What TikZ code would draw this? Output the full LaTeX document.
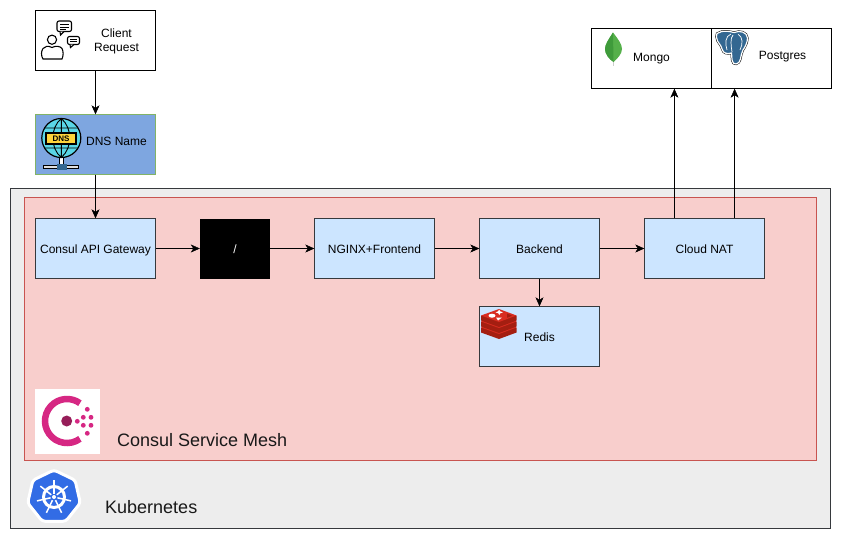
\documentclass[tikz,border=0pt]{standalone}
\usepackage{fontspec}
\setmainfont{Liberation Sans}
\usepackage{xcolor}
\usetikzlibrary{arrows.meta,calc}
\definecolor{meshred}{HTML}{F8CECC}
\definecolor{meshline}{HTML}{C85450}
\definecolor{svcblue}{HTML}{CCE5FF}
\definecolor{darkline}{HTML}{36393D}
\definecolor{dnsblue}{HTML}{7EA6E0}
\definecolor{dnsline}{HTML}{82B366}
\definecolor{globecyan}{HTML}{5AD6E6}
\definecolor{dnsyellow}{HTML}{FFD43B}
\definecolor{k8sblue}{HTML}{326CE5}
\definecolor{consulpink}{HTML}{D62783}
\definecolor{consuldark}{HTML}{961D59}
\definecolor{pgblue}{HTML}{336791}
\definecolor{redisred}{HTML}{D82C20}
\definecolor{redisdark}{HTML}{A41E11}
\definecolor{leafleft}{HTML}{3F9B3B}
\definecolor{leafright}{HTML}{55B04A}

\begin{document}
\begin{tikzpicture}[x=1pt,y=-1pt,>={Stealth[length=9pt,width=8pt,inset=2.5pt]},
    svc/.style={draw=darkline,fill=svcblue,minimum width=120pt,minimum height=60pt,inner sep=0pt,text height=10pt,text depth=1pt,font=\fontsize{12}{14}\selectfont},
    plainbox/.style={draw=black,fill=white,minimum width=120pt,minimum height=60pt,inner sep=0pt},
    txt/.style={inner sep=0pt,font=\fontsize{12}{14}\selectfont,align=center},
    bigtxt/.style={inner sep=0pt,anchor=west,font=\fontsize{18}{20}\selectfont,text=black!90}]
    \useasboundingbox (0,0) rectangle (842,539);
    % panels
    \fill[white] (0,0) rectangle (842,539);
    \draw[draw=darkline,fill=black!7] (10.5,188.5) rectangle (830.5,528.5);
    \draw[draw=meshline,fill=meshred] (24.5,197.5) rectangle (816.5,460.5);
    % boxes
    \node[plainbox] (client) at (95.5,40.5) {};
    \node[draw=dnsline,fill=dnsblue,minimum width=120pt,minimum height=60pt,inner sep=0pt] (dns) at (95.5,144.5) {};
    \node[svc] (gateway) at (95.5,248.5) {Consul API Gateway};
    \node[fill=black,minimum width=70pt,minimum height=60pt,inner sep=0pt,text=white,text height=10pt,text depth=1pt,font=\fontsize{12}{14}\selectfont] (root) at (235,248.5) {/};
    \node[svc] (frontend) at (374.5,248.5) {NGINX+Frontend};
    \node[svc] (backend) at (539.5,248.5) {Backend};
    \node[svc] (nat) at (704.5,248.5) {Cloud NAT};
    \node[svc] (redis) at (539.5,336.5) {};
    \node[plainbox] (mongo) at (651.5,58.5) {};
    \node[plainbox] (postgres) at (771.5,58.5) {};
    % labels
    \node[txt] (clienttxt) at (116.5,41) {Client\\Request};
    \node[txt] (dnstxt) at (116.5,141) {DNS Name};
    \node[txt] (redistxt) at (539.5,337) {Redis};
    \node[txt] (mongotxt) at (651.5,59) {Mongo};
    \node[txt] (postgrestxt) at (782.5,57) {Postgres};
    \node[bigtxt] (meshtxt) at (117,440) {Consul Service Mesh};
    \node[bigtxt] (k8stxt) at (105,507) {Kubernetes};
    % connectors
    \draw[->] (client) -- (dns);
    \draw[->] (dns) -- (gateway);
    \draw[->] (gateway) -- (root);
    \draw[->] (root) -- (frontend);
    \draw[->] (frontend) -- (backend);
    \draw[->] (backend) -- (nat);
    \draw[->] (backend) -- (redis);
    \coordinate (natleft) at ($(nat.north west)!0.25!(nat.north east)$);
    \coordinate (natright) at ($(nat.north west)!0.75!(nat.north east)$);
    \draw[->] (natleft) -- (natleft |- mongo.south);
    \draw[->] (natright) -- (natright |- postgres.south);
    % person with bubbles
    \draw[line width=1.1pt] (52,39.7) circle (4.6);
    \draw[line width=1.1pt] (43,59) .. controls (41,56) and (41,51) .. (43,48.5) .. controls (45,46) and (48,45.5) .. (52,47.5) .. controls (56,45.5) and (60,46) .. (62,48.5) .. controls (63.5,51) and (63.5,56) .. (62,59) -- cycle;
    \draw[line width=1.1pt,rounded corners=2pt] (57,21) rectangle (71.5,31.5);
    \draw[line width=1.1pt,fill=white] (60,31.5) -- (60.5,35) -- (64,31.5);
    \draw[line width=.8pt] (60,24.5) -- (68.5,24.5) (60,27) -- (68.5,27) (60,29.3) -- (66,29.3);
    \draw[line width=1.1pt,rounded corners=2pt] (67.5,36.5) rectangle (79.5,44.5);
    \draw[line width=1.1pt,fill=white] (70,44.5) -- (70.5,47.5) -- (74,44.5);
    \draw[line width=.8pt] (70,39) -- (77,39) (70,41.5) -- (77,41.5);
    % dns globe
    \draw[line width=1pt,fill=black!12] (43.5,165.5) rectangle (78.5,168.5);
    \draw[line width=1pt,fill=white] (59.5,155) rectangle (63.5,165);
    \fill[pgblue] (56.5,164) rectangle (66.5,169.5);
    \draw[line width=1.2pt,fill=globecyan] (61.3,138) circle (19.5);
    \draw[line width=.9pt] (61.3,118.5) .. controls (50,128) and (50,148) .. (61.3,157.5)
      (61.3,118.5) .. controls (72.6,128) and (72.6,148) .. (61.3,157.5)
      (61.3,118.5) -- (61.3,157.5) (44.5,128) -- (78,128) (44.5,148) -- (78,148);
    \node[draw=black,line width=1.2pt,fill=dnsyellow,minimum width=30pt,minimum height=11pt,inner sep=0pt,font=\bfseries\fontsize{8}{8}\selectfont] (dnsflag) at (61,138.5) {DNS};
    % mongo leaf
    \fill[black!20] (612.6,60) rectangle (613.6,66);
    \fill[leafright] (613,32.5) .. controls (618,39) and (622,44) .. (622,49) .. controls (622,54) and (617,59) .. (613.5,62) .. controls (609,59) and (605,54) .. (605,49) .. controls (605,44) and (609,39) .. (613,32.5) -- cycle;
    \fill[leafleft] (613,32.5) .. controls (609,39) and (605,44) .. (605,49) .. controls (605,54) and (609,59) .. (613.5,62) -- cycle;
    % postgres elephant
    \draw[black,line width=2.2pt] (717,33.5) .. controls (723,29.5) and (730,31.5) .. (734,32.5) .. controls (740,30) and (747,32) .. (747.5,38) .. controls (747.5,43) and (745,47) .. (743,50) .. controls (741.5,53) and (741,56) .. (740.5,59) .. controls (739.5,65) and (732.5,66) .. (732,60) -- (731.5,53) .. controls (728,54) and (723,54) .. (722,49) .. controls (721,45) and (719,44) .. (717.5,41) .. controls (716,38) and (716,35) .. (717,33.5) -- cycle;
    \draw[white,line width=1.2pt,fill=pgblue] (717,33.5) .. controls (723,29.5) and (730,31.5) .. (734,32.5) .. controls (740,30) and (747,32) .. (747.5,38) .. controls (747.5,43) and (745,47) .. (743,50) .. controls (741.5,53) and (741,56) .. (740.5,59) .. controls (739.5,65) and (732.5,66) .. (732,60) -- (731.5,53) .. controls (728,54) and (723,54) .. (722,49) .. controls (721,45) and (719,44) .. (717.5,41) .. controls (716,38) and (716,35) .. (717,33.5) -- cycle;
    \draw[white,line width=.7pt] (731,34) .. controls (725,36) and (725,44) .. (727,50) (733,35) .. controls (730,38) and (731,46) .. (732,52) (738,34) .. controls (743,37) and (743,44) .. (740,50);
    % redis stack
    \foreach \y in {327.5,321.5,315.5}{
      \fill[redisdark] (481,\y) -- (481,\y+5) -- (499,\y+11.5) -- (516.5,\y+5) -- (516.5,\y) -- cycle;
      \fill[redisred] (481,\y) -- (499,\y+6.5) -- (516.5,\y) -- (499,\y-6.5) -- cycle;
    }
    \fill[white] (492,315.7) ellipse (3.5 and 2);
    \fill[white] (496,317.5) -- (502,317.5) -- (498,320.5) -- cycle;
    \fill[white] (499,309.5) -- (500.2,311.3) -- (503,312.3) -- (500.2,313.3) -- (499.5,315) -- (498.2,313.3) -- (495.5,312.3) -- (498.2,311.3) -- cycle;
    \fill[redisdark] (507,313.5) -- (512,315.7) -- (507,317.8) -- cycle;
    % consul logo
    \fill[white] (35,389) rectangle (100,454);
    \draw[consulpink,line width=6.5pt] ($(67,421)+(54:22)$) arc (54:306:22);
    \fill[consuldark] (66.7,421) circle (5.5);
    \foreach \px/\py in {77.3/421.3,87.3/409.3,83.3/417.3,91/417.3,83.3/425.3,91/425.3,87.3/433.3}{
      \fill[consulpink] (\px,\py) circle (2.4);
    }
    % kubernetes logo
    \draw[white,line width=3pt,fill=k8sblue,rounded corners=3pt] plot[samples at={0,1,...,6}] ({54+27*sin(\x*360/7)},{497-27*cos(\x*360/7)}) -- cycle;
    \draw[white,line width=3pt] (54,497) circle (10.5);
    \foreach \a in {0,1,...,6}{
      \draw[white,line width=1.5pt] ({54+3.5*sin(\a*360/7)},{497-3.5*cos(\a*360/7)}) -- ({54+17.5*sin(\a*360/7)},{497-17.5*cos(\a*360/7)});
    }
    \fill[white] (54,497) circle (2);
\end{tikzpicture}
\end{document}
